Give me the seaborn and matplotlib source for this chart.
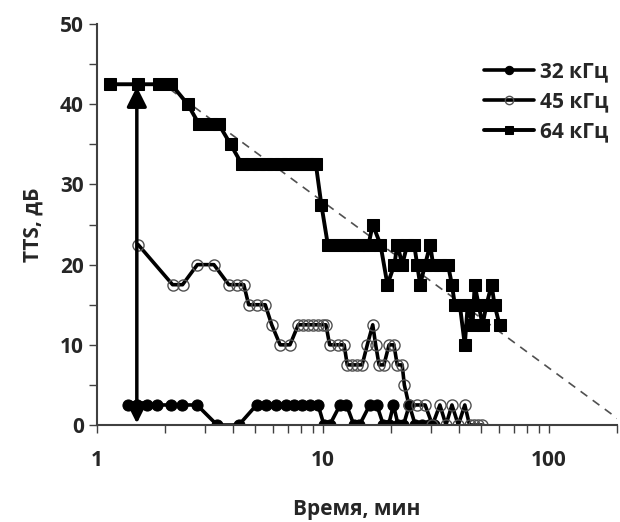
import matplotlib
matplotlib.use("Agg")
import matplotlib.pyplot as plt
import seaborn as sns
import pandas as pd

# time, min / TTS, dB
t32 = [1.37, 1.51, 1.66, 1.85, 2.13, 2.38, 2.77, 3.4, 4.24, 5.08, 5.62, 6.22,
       6.88, 7.46, 8.09, 8.77, 9.51, 10.1, 10.7, 11.9, 12.7, 13.7, 14.5, 16.1,
       17.3, 18.5, 19.5, 20.5, 21.5, 22.7, 24.1, 25.6, 27.5, 29.5, 31.0]
y32 = [2.5, 2.5, 2.5, 2.5, 2.5, 2.5, 2.5, 0, 0, 2.5, 2.5, 2.5,
       2.5, 2.5, 2.5, 2.5, 2.5, 0, 0, 2.5, 2.5, 0, 0, 2.5,
       2.5, 0, 0, 2.5, 0, 0, 2.5, 0, 0, 0, 0]

t45 = [1.52, 2.16, 2.39, 2.78, 3.29, 3.83, 4.17, 4.46, 4.69, 5.10, 5.55, 5.93,
       6.46, 7.14, 7.77, 8.15, 8.6, 9.0, 9.5, 10.0, 10.3, 10.7, 11.6, 12.4,
       12.8, 13.5, 14.2, 14.9, 15.7, 16.6, 17.1, 17.7, 18.6, 19.6, 20.6, 21.3,
       22.4, 22.9, 24.0, 26.0, 28.3, 30.5, 32.9, 35.0, 37.2, 39.7, 42.4, 44.5,
       46.5, 48.5, 50.5]
y45 = [22.5, 17.5, 17.5, 20, 20, 17.5, 17.5, 17.5, 15, 15, 15, 12.5,
       10, 10, 12.5, 12.5, 12.5, 12.5, 12.5, 12.5, 12.5, 10, 10, 10,
       7.5, 7.5, 7.5, 7.5, 10, 12.5, 10, 7.5, 7.5, 10, 10, 7.5,
       7.5, 5, 2.5, 2.5, 2.5, 0, 2.5, 0, 2.5, 0, 2.5, 0,
       0, 0, 0]

t64 = [1.14, 1.52, 1.88, 2.13, 2.52, 2.83, 3.18, 3.46, 3.90, 4.38, 4.8, 5.2,
       5.6, 6.0, 6.5, 7.0, 7.5, 8.0, 8.5, 9.0, 9.3, 9.83, 10.5, 11.2,
       11.9, 12.7, 13.5, 14.3, 15.1, 15.9, 16.6, 17.96, 19.28, 20.69, 21.33, 22.43,
       23.59, 25.32, 26.1, 26.9, 28.3, 29.8, 30.7, 32.9, 35.7, 37.2, 38.3, 40.3,
       42.4, 43.7, 45.9, 46.9, 48.8, 50.8, 52.9, 55.7, 57.4, 60.4]
y64 = [42.5, 42.5, 42.5, 42.5, 40, 37.5, 37.5, 37.5, 35, 32.5, 32.5, 32.5,
       32.5, 32.5, 32.5, 32.5, 32.5, 32.5, 32.5, 32.5, 32.5, 27.5, 22.5, 22.5,
       22.5, 22.5, 22.5, 22.5, 22.5, 22.5, 25, 22.5, 17.5, 20, 22.5, 20,
       22.5, 22.5, 20, 17.5, 20, 22.5, 20, 20, 20, 17.5, 15, 15,
       10, 15, 12.5, 17.5, 15, 12.5, 15, 17.5, 15, 12.5]

# dashed trend line endpoints
trend_t = [2.1, 220]
trend_y = [41.9, 0]

# double arrow (exposure level)
arrow_t = 1.5
arrow_y = [0.2, 42.2]

labels = ["32 кГц", "45 кГц", "64 кГц"]

sns.set_style("ticks")
plt.rcParams["font.family"] = ["Open Sans", "DejaVu Sans"]

fig = plt.figure(figsize=(6.2, 5.22), dpi=100)
ax = fig.add_axes([0.1565, 0.1858, 0.8387, 0.768])

trend = pd.DataFrame({"t": trend_t, "y": trend_y})
sns.lineplot(data=trend, x="t", y="y", ax=ax, color="#505050", linewidth=1.2,
             dashes=False, linestyle=(0, (5, 4)), estimator=None, sort=False)

s32 = pd.DataFrame({"t": t32, "y": y32})
s45 = pd.DataFrame({"t": t45, "y": y45})
s64 = pd.DataFrame({"t": t64, "y": y64})

sns.lineplot(data=s32, x="t", y="y", ax=ax, color="black", linewidth=2.6,
             marker="o", markersize=8, markeredgecolor="black",
             estimator=None, sort=False, label=labels[0])
sns.lineplot(data=s45, x="t", y="y", ax=ax, color="black", linewidth=2.6,
             marker="o", markersize=8, markerfacecolor="none",
             markeredgecolor="#505050", markeredgewidth=1.0,
             estimator=None, sort=False, label=labels[1])
sns.lineplot(data=s64, x="t", y="y", ax=ax, color="black", linewidth=2.8,
             marker="s", markersize=8.5, markeredgecolor="black",
             estimator=None, sort=False, label=labels[2])

ax.annotate("", xy=(arrow_t, arrow_y[1]), xytext=(arrow_t, arrow_y[0]),
            arrowprops=dict(arrowstyle="<|-|>,head_length=0.6,head_width=0.3",
                            color="black", lw=2.5, shrinkA=0, shrinkB=0,
                            mutation_scale=20))

ax.set_xscale("log")
ax.set_xlim(1, 200)
ax.set_ylim(0, 50)
ax.set_xticks([1, 10, 100])
ax.set_xticklabels(["1", "10", "100"])
ax.set_yticks([0, 10, 20, 30, 40, 50])
ax.set_yticks([5, 15, 25, 35, 45], minor=True)
ax.tick_params(axis="both", which="both", direction="out", length=6, width=1,
               color="#404040", labelsize=15)
ax.tick_params(axis="x", which="major", pad=12)
for lab in ax.get_xticklabels() + ax.get_yticklabels():
    lab.set_fontweight("bold")

ax.set_xlabel("Время, мин", fontsize=15, fontweight="bold", labelpad=20)
ax.set_ylabel("TTS, дБ", fontsize=15, fontweight="bold", labelpad=12)

sns.despine(ax=ax)
for side in ["left", "bottom"]:
    ax.spines[side].set_color("#404040")
    ax.spines[side].set_linewidth(1.5)

ax.legend(loc="upper right", bbox_to_anchor=(1.02, 0.955), frameon=False,
          handlelength=2.4, markerscale=0.75, labelspacing=0.45,
          handletextpad=0.3, prop={"size": 15, "weight": "bold"})

fig.savefig("out.png", dpi=100)
